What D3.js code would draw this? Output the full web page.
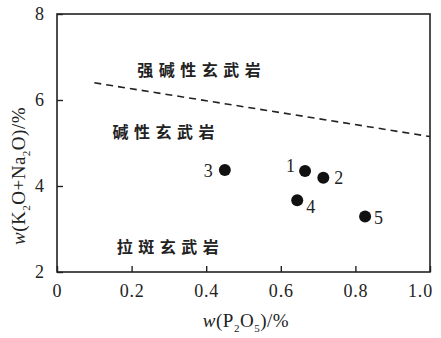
<!DOCTYPE html>
<html>
<head>
<meta charset="utf-8">
<script src="https://cdn.jsdelivr.net/npm/d3@7"></script>
<style>
  body { margin: 0; background: #fff; }
  svg { display: block; }
</style>
</head>
<body>
<svg id="chart" width="441" height="338"></svg>
<script>
// Sample compositions: P2O5 vs total alkali (wt%)
const sampleIds = ["1", "2", "3", "4", "5"];
const p2o5 = [0.665, 0.714, 0.45, 0.644, 0.826];
const alkali = [4.35, 4.19, 4.37, 3.67, 3.29];

// Label offsets per sample (dx, dy in px)
const labelDx = [-10, 11, -12, 9, 9];
const labelDy = [-5, 0, 1, 7, 1];

// Dividing line between alkaline and strongly alkaline basalts
const boundaryX = [0.1, 1.0];
const boundaryY = [6.4, 5.15];

// Field names
const fieldNames = ["强碱性玄武岩", "碱性玄武岩", "拉斑玄武岩"];
const fieldX = [0.215, 0.149, 0.16];
const fieldY = [6.72, 5.28, 2.6];

const xTicks = [0, 0.2, 0.4, 0.6, 0.8, 1.0];
const yTicks = [2, 4, 6, 8];

const svg = d3.select("#chart");
const m = { left: 57, right: 430, top: 14, bottom: 272 };

const x = d3.scaleLinear().domain([0, 1]).range([m.left, m.right]);
const y = d3.scaleLinear().domain([2, 8]).range([m.bottom, m.top]);

const serif = "'Liberation Serif', 'Times New Roman', serif";
const cjk = "'Noto Sans CJK SC', sans-serif";

// Frame
svg.append("rect")
  .attr("x", m.left).attr("y", m.top)
  .attr("width", m.right - m.left).attr("height", m.bottom - m.top)
  .attr("fill", "none").attr("stroke", "#222").attr("stroke-width", 1.6);

// Axes with inward ticks
const xAxis = svg.append("g")
  .attr("transform", `translate(0,${m.bottom})`)
  .call(d3.axisBottom(x).tickValues(xTicks).tickSizeInner(-6).tickSizeOuter(0)
    .tickPadding(12).tickFormat(d => d === 0 ? "0" : d3.format(".1f")(d)));
const yAxis = svg.append("g")
  .attr("transform", `translate(${m.left},0)`)
  .call(d3.axisLeft(y).tickValues(yTicks).tickSizeInner(-6).tickSizeOuter(0)
    .tickPadding(13).tickFormat(d3.format("d")));

[xAxis, yAxis].forEach(g => {
  g.select(".domain").remove();
  g.selectAll(".tick line").attr("stroke", "#222").attr("stroke-width", 1.4);
  g.selectAll(".tick text").attr("fill", "#222")
    .style("font-family", serif).style("font-size", "18px");
});
xAxis.selectAll(".tick text").style("letter-spacing", "0.8px");
// Keep the last x label inside the right edge
xAxis.selectAll(".tick text").filter(d => d === 1).attr("x", -10);

// Boundary (dashed)
const line = d3.line().x((d, i) => x(boundaryX[i])).y(d => y(d));
svg.append("path")
  .attr("d", line(boundaryY))
  .attr("fill", "none").attr("stroke", "#222")
  .attr("stroke-width", 1.6).attr("stroke-dasharray", "7,5");

// Field names
svg.selectAll("text.field")
  .data(fieldNames)
  .join("text")
  .attr("class", "field")
  .attr("x", (d, i) => x(fieldX[i]))
  .attr("y", (d, i) => y(fieldY[i]))
  .attr("dominant-baseline", "central")
  .style("font-family", cjk).style("font-size", "16px").style("font-weight", "bold")
  .style("letter-spacing", "5.5px")
  .attr("fill", "#222")
  .text(d => d);

// Sample points
svg.selectAll("circle.pt")
  .data(sampleIds)
  .join("circle")
  .attr("class", "pt")
  .attr("cx", (d, i) => x(p2o5[i]))
  .attr("cy", (d, i) => y(alkali[i]))
  .attr("r", 6)
  .attr("fill", "#111");

svg.selectAll("text.pt-label")
  .data(sampleIds)
  .join("text")
  .attr("class", "pt-label")
  .attr("x", (d, i) => x(p2o5[i]) + labelDx[i])
  .attr("y", (d, i) => y(alkali[i]) + labelDy[i])
  .attr("text-anchor", (d, i) => labelDx[i] < 0 ? "end" : "start")
  .attr("dominant-baseline", "central")
  .style("font-family", serif).style("font-size", "18px")
  .attr("fill", "#222")
  .text(d => d);

// Axis titles
const xt = svg.append("text")
  .attr("x", 246).attr("y", 327)
  .attr("text-anchor", "middle")
  .style("font-family", serif).style("font-size", "19px")
  .style("letter-spacing", "0.5px").attr("fill", "#222");
xt.append("tspan").style("font-style", "italic").text("w");
xt.append("tspan").text("(P");
xt.append("tspan").attr("dy", 5).style("font-size", "11px").text("2");
xt.append("tspan").attr("dy", -5).text("O");
xt.append("tspan").attr("dy", 5).style("font-size", "11px").text("5");
xt.append("tspan").attr("dy", -5).text(")/%");

const yt = svg.append("text")
  .attr("transform", "translate(25,176) rotate(-90)")
  .attr("text-anchor", "middle")
  .style("font-family", serif).style("font-size", "19px")
  .style("letter-spacing", "0.5px").attr("fill", "#222");
yt.append("tspan").style("font-style", "italic").text("w");
yt.append("tspan").text("(K");
yt.append("tspan").attr("dy", 5).style("font-size", "11px").text("2");
yt.append("tspan").attr("dy", -5).text("O+Na");
yt.append("tspan").attr("dy", 5).style("font-size", "11px").text("2");
yt.append("tspan").attr("dy", -5).text("O)/%");
</script>
</body>
</html>
